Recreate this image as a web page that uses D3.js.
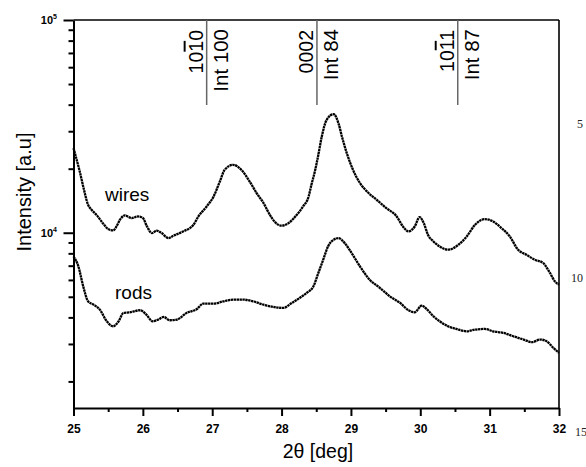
<!DOCTYPE html>
<html>
<head>
<meta charset="utf-8">
<script src="https://cdn.jsdelivr.net/npm/d3@7"></script>
<style>
  body { margin: 0; background: #fff; }
  svg { display: block; font-family: "Liberation Sans", Arial, sans-serif; }
</style>
</head>
<body>
<svg width="586" height="467"></svg>
<script>
// 2-theta readings (deg) and intensities (a.u.)
const wiresAngle = [25.0, 25.04, 25.09, 25.14, 25.21, 25.26, 25.33, 25.43, 25.5, 25.57, 25.62, 25.67, 25.74, 25.84, 25.93, 26.0, 26.06, 26.13, 26.2, 26.27, 26.37, 26.44, 26.58, 26.73, 26.8, 26.92, 27.02, 27.11, 27.18, 27.3, 27.42, 27.54, 27.64, 27.74, 27.83, 27.91, 28.0, 28.1, 28.22, 28.31, 28.39, 28.43, 28.48, 28.53, 28.58, 28.65, 28.75, 28.82, 28.87, 28.94, 29.03, 29.13, 29.23, 29.37, 29.51, 29.66, 29.75, 29.83, 29.92, 29.99, 30.05, 30.11, 30.19, 30.28, 30.4, 30.55, 30.67, 30.79, 30.93, 31.05, 31.17, 31.29, 31.41, 31.53, 31.65, 31.77, 31.87, 31.94, 32.0];
const wiresI = [25000, 22400, 19400, 16500, 13540, 12820, 12150, 11020, 10410, 10250, 10700, 11510, 12060, 11720, 11925, 11720, 10700, 9960, 10220, 9960, 9440, 9680, 10140, 10900, 11925, 13290, 14800, 17410, 19760, 20860, 19760, 17410, 15360, 13790, 12150, 11180, 10790, 11100, 12150, 13290, 14800, 16800, 19400, 23240, 28340, 33930, 36070, 32730, 28340, 23670, 19760, 17120, 15640, 14290, 13060, 11925, 10700, 10140, 10700, 11840, 11100, 9790, 9100, 8620, 8320, 8780, 9610, 10900, 11590, 11300, 10520, 9610, 8320, 7880, 7470, 7210, 6470, 5910, 5700];

const rodsAngle = [25.0, 25.07, 25.14, 25.21, 25.29, 25.38, 25.48, 25.57, 25.65, 25.72, 25.81, 25.96, 26.05, 26.14, 26.22, 26.3, 26.39, 26.49, 26.63, 26.78, 26.87, 27.02, 27.16, 27.3, 27.45, 27.59, 27.74, 27.88, 28.02, 28.15, 28.26, 28.36, 28.46, 28.53, 28.6, 28.67, 28.75, 28.82, 28.91, 29.01, 29.13, 29.27, 29.42, 29.56, 29.71, 29.83, 29.92, 30.02, 30.09, 30.19, 30.28, 30.4, 30.52, 30.67, 30.79, 30.93, 31.05, 31.2, 31.34, 31.49, 31.61, 31.73, 31.82, 31.92, 32.0];
const rodsI = [7740, 6950, 5600, 4760, 4590, 4350, 3835, 3633, 3835, 4197, 4226, 4320, 4121, 3835, 3905, 4018, 3877, 3905, 4197, 4381, 4641, 4641, 4760, 4847, 4847, 4760, 4590, 4478, 4430, 4677, 4934, 5208, 5600, 6467, 7466, 8623, 9270, 9440, 8940, 8025, 6950, 6015, 5497, 5024, 4677, 4320, 4226, 4544, 4381, 4047, 3835, 3633, 3529, 3441, 3504, 3529, 3441, 3381, 3261, 3146, 3057, 3146, 3091, 2874, 2723];

const xTicks = [25, 26, 27, 28, 29, 30, 31, 32];
const xMinor = [25.5, 26.5, 27.5, 28.5, 29.5, 30.5, 31.5];
const yMajor = [1e4, 1e5];
const yMinor = [2000, 3000, 4000, 5000, 6000, 7000, 8000, 9000, 20000, 30000, 40000, 50000, 60000, 70000, 80000, 90000];

// reflection markers: position, Miller index (digit with bar), intensity note
const reflAngle = [26.92, 28.51, 30.54];
const reflIndex = [["10", "1", "0"], ["0002", "", ""], ["10", "1", "1"]];
const reflNote = ["Int 100", "Int 84", "Int 87"];

const svg = d3.select("svg");
const x = d3.scaleLinear().domain([25, 32]).range([73.5, 559]);
const y = d3.scaleLog().domain([1500, 1e5]).range([408, 20]);

// frame
svg.append("line").attr("x1", 73.5).attr("x2", 559).attr("y1", 20).attr("y2", 20)
  .attr("stroke", "#000").attr("stroke-width", 1.6);
svg.append("line").attr("x1", 559).attr("x2", 559).attr("y1", 20).attr("y2", 408)
  .attr("stroke", "#000").attr("stroke-width", 1.6);

// x axis
const gxMinor = svg.append("g").attr("transform", "translate(0,408)")
  .call(d3.axisBottom(x).tickValues(xMinor).tickSize(4).tickFormat("").tickSizeOuter(0));
const gx = svg.append("g").attr("transform", "translate(0,408)")
  .call(d3.axisBottom(x).tickValues(xTicks).tickSize(8).tickFormat(d3.format("d")).tickSizeOuter(0));
gxMinor.select(".domain").remove();
gx.select(".domain").attr("stroke-width", 2);
svg.selectAll(".tick line").attr("stroke-width", 2);
gx.selectAll(".tick text").attr("font-size", 12).attr("font-weight", "bold")
  .attr("font-family", "Liberation Sans, Arial, sans-serif").attr("y", 16);

// y axis
const gyMinor = svg.append("g").attr("transform", "translate(73.5,0)")
  .call(d3.axisLeft(y).tickValues(yMinor).tickSize(5).tickFormat("").tickSizeOuter(0));
const gy = svg.append("g").attr("transform", "translate(73.5,0)")
  .call(d3.axisLeft(y).tickValues(yMajor).tickSize(10).tickFormat("").tickSizeOuter(0));
gyMinor.select(".domain").remove();
gy.select(".domain").attr("stroke-width", 2);
svg.selectAll(".tick line").attr("stroke-width", 2);

yMajor.forEach(v => {
  const t = svg.append("text").attr("x", 57).attr("y", y(v) + 4)
    .attr("text-anchor", "end").attr("font-size", 11).attr("font-weight", "bold");
  t.append("tspan").text("10");
  t.append("tspan").attr("font-size", 7).attr("dy", -5).text(Math.round(Math.log10(v)));
});

// curves
const line = d3.line().x(d => x(d[0])).y(d => y(d[1])).curve(d3.curveMonotoneX);
const series = [d3.zip(wiresAngle, wiresI), d3.zip(rodsAngle, rodsI)];
svg.append("g").selectAll("path").data(series).join("path")
  .attr("d", line).attr("fill", "none").attr("stroke", "#000")
  .attr("stroke-width", 2.3).attr("stroke-dasharray", "2.4,0.5");

svg.append("text").attr("x", 105).attr("y", 201).attr("font-size", 19).text("wires");
svg.append("text").attr("x", 115).attr("y", 299).attr("font-size", 19).text("rods");

// reflection markers
reflAngle.forEach((a, i) => {
  const px = x(a);
  svg.append("line").attr("x1", px).attr("x2", px).attr("y1", 20).attr("y2", 105)
    .attr("stroke", "#666").attr("stroke-width", 1.5);
  const idx = svg.append("text").attr("transform", `translate(${px - 4},30) rotate(-90)`)
    .attr("text-anchor", "end").attr("font-size", 19.5);
  const [a0, bar, a2] = reflIndex[i];
  idx.append("tspan").text(a0);
  if (bar) {
    idx.append("tspan").style("text-decoration", "overline").text(bar);
    idx.append("tspan").text(a2);
  }
  svg.append("text").attr("transform", `translate(${px + 21},29) rotate(-90)`)
    .attr("text-anchor", "end").attr("font-size", 20.5).text(reflNote[i]);
});

// axis titles
svg.append("text").attr("transform", "translate(31,192) rotate(-90)")
  .attr("text-anchor", "middle").attr("font-size", 20).text("Intensity [a.u]");
svg.append("text").attr("x", 318).attr("y", 458)
  .attr("text-anchor", "middle").attr("font-size", 19.5).text("2θ [deg]");

// stray page numbers at the right margin
const marginNums = ["5", "10", "15"];
const marginPos = [[577, 128], [571, 282], [575, 436]];
marginNums.forEach((n, i) => {
  svg.append("text").attr("x", marginPos[i][0]).attr("y", marginPos[i][1])
    .attr("font-family", "Liberation Serif, serif").attr("font-size", 12)
    .attr("fill", "#222").text(n);
});
</script>
</body>
</html>
